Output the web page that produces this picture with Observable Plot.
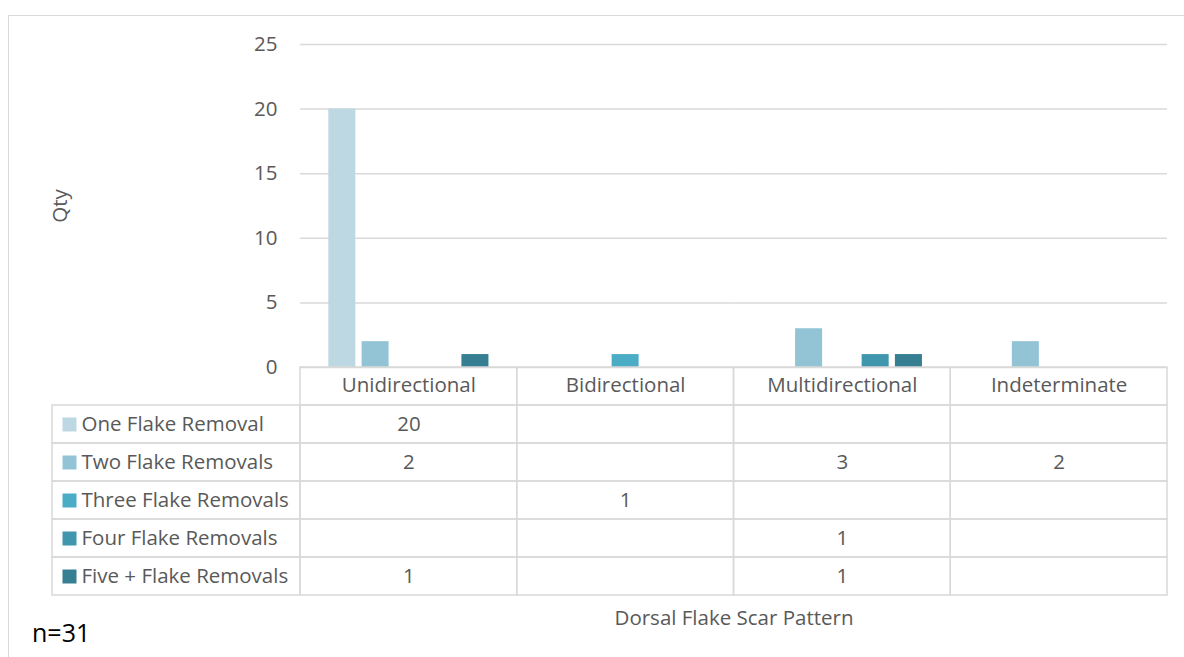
<!DOCTYPE html>
<html><head><meta charset="utf-8">
<script src="https://cdn.jsdelivr.net/npm/d3@7"></script>
<script src="https://cdn.jsdelivr.net/npm/@observablehq/plot@0.6"></script>
<style>
html,body{margin:0;padding:0;background:#fff;}
#chart{position:relative;width:1184px;height:657px;overflow:hidden;font-family:"Open Sans",sans-serif;background:#fff;}
#chart svg{position:absolute;background:transparent;}
#border{position:absolute;left:8px;top:15px;width:1300px;height:800px;border:1.5px solid #d9d9d9;box-sizing:border-box;}
#note{position:absolute;left:32px;top:620px;font-size:25px;line-height:24px;color:#000;}
</style></head><body>
<div id="chart"><div id="border"></div></div>
<script>
const categories = ["Unidirectional", "Bidirectional", "Multidirectional", "Indeterminate"];
const series = ["One Flake Removal", "Two Flake Removals", "Three Flake Removals", "Four Flake Removals", "Five + Flake Removals"];
const oneFlake   = [20, null, null, null];
const twoFlake   = [2, null, 3, 2];
const threeFlake = [null, 1, null, null];
const fourFlake  = [null, null, 1, null];
const fiveFlake  = [1, null, 1, null];
const colors = ["#bdd8e3", "#93c4d6", "#4bacc6", "#4096ad", "#367e92"];
const yTicks = [0, 5, 10, 15, 20, 25];
const yTitle = "Qty";
const xTitle = "Dorsal Flake Scar Pattern";
const note = "n=31";

const seriesValues = [oneFlake, twoFlake, threeFlake, fourFlake, fiveFlake];
const data = series.flatMap((s, i) => categories.map((c, j) => ({series: s, category: c, value: seriesValues[i][j]})));
const present = data.filter(d => d.value != null);
const HEADER = "header";
const rows = [HEADER, ...series];
const cells = rows.flatMap(r => categories.map(c => ({row: r, category: c})));

const grid = "#d9d9d9";
const txt = "#595959";
const baseStyle = {fontFamily: "'Open Sans', sans-serif", fontSize: "20.5px", color: txt, background: "transparent", overflow: "visible"};

const chart = document.getElementById("chart");

// Bar chart
const bars = Plot.plot({
  width: 1184, height: 368,
  marginTop: 44, marginBottom: 1, marginLeft: 300, marginRight: 17,
  style: baseStyle,
  fx: {domain: categories, padding: 0, axis: null, round: false},
  x: {domain: series, paddingInner: 0.188, paddingOuter: 0.851, axis: null, round: false},
  y: {domain: [0, 25]},
  color: {domain: series, range: colors},
  marks: [
    Plot.gridY(yTicks, {stroke: grid, strokeOpacity: 1, strokeWidth: 1.5}),
    Plot.axisY(yTicks, {tickSize: 0, tickPadding: 23, label: yTitle, labelAnchor: "center", labelArrow: "none", labelOffset: 248, fill: txt}),
    Plot.barY(present, {fx: "category", x: "series", y: "value", fill: "series", inset: 0})
  ]
});
bars.style.left = "0px"; bars.style.top = "0px";
chart.appendChild(bars);

// Data table: value columns
const tableRight = Plot.plot({
  width: 886, height: 292,
  marginTop: 2, marginBottom: 62, marginLeft: 2, marginRight: 17,
  style: baseStyle,
  x: {domain: categories, padding: 0, axis: null, round: false},
  y: {domain: rows, padding: 0, axis: null, round: false},
  marks: [
    Plot.cell(cells, {x: "category", y: "row", stroke: grid, strokeWidth: 1.5, fill: "none", inset: 0}),
    Plot.text(categories, {x: d => d, y: () => HEADER, text: d => d, fill: txt, dy: -1}),
    Plot.text(present, {x: "category", y: "series", text: "value", fill: txt}),
    Plot.text([xTitle], {frameAnchor: "bottom", lineAnchor: "middle", dy: 23, text: d => d, fill: txt})
  ]
});
tableRight.style.left = "298px"; tableRight.style.top = "365px";
chart.appendChild(tableRight);

// Data table: legend column
const tableLeft = Plot.plot({
  width: 302, height: 292,
  marginTop: 2, marginBottom: 62, marginLeft: 52, marginRight: 2,
  style: baseStyle,
  x: {domain: ["legend"], padding: 0, axis: null, round: false},
  y: {domain: rows, padding: 0, axis: null, round: false},
  color: {domain: series, range: colors},
  marks: [
    Plot.cell(series, {x: () => "legend", y: d => d, stroke: grid, strokeWidth: 1.5, fill: "none", inset: 0}),
    Plot.dot(series, {y: d => d, frameAnchor: "left", dx: 17, symbol: "square", r: 7.9, fill: d => d}),
    Plot.text(series, {y: d => d, frameAnchor: "left", dx: 29, textAnchor: "start", text: d => d, fill: txt})
  ]
});
tableLeft.style.left = "0px"; tableLeft.style.top = "365px";
chart.appendChild(tableLeft);

const n = document.createElement("div");
n.id = "note"; n.textContent = note;
chart.appendChild(n);
</script>
</body></html>
